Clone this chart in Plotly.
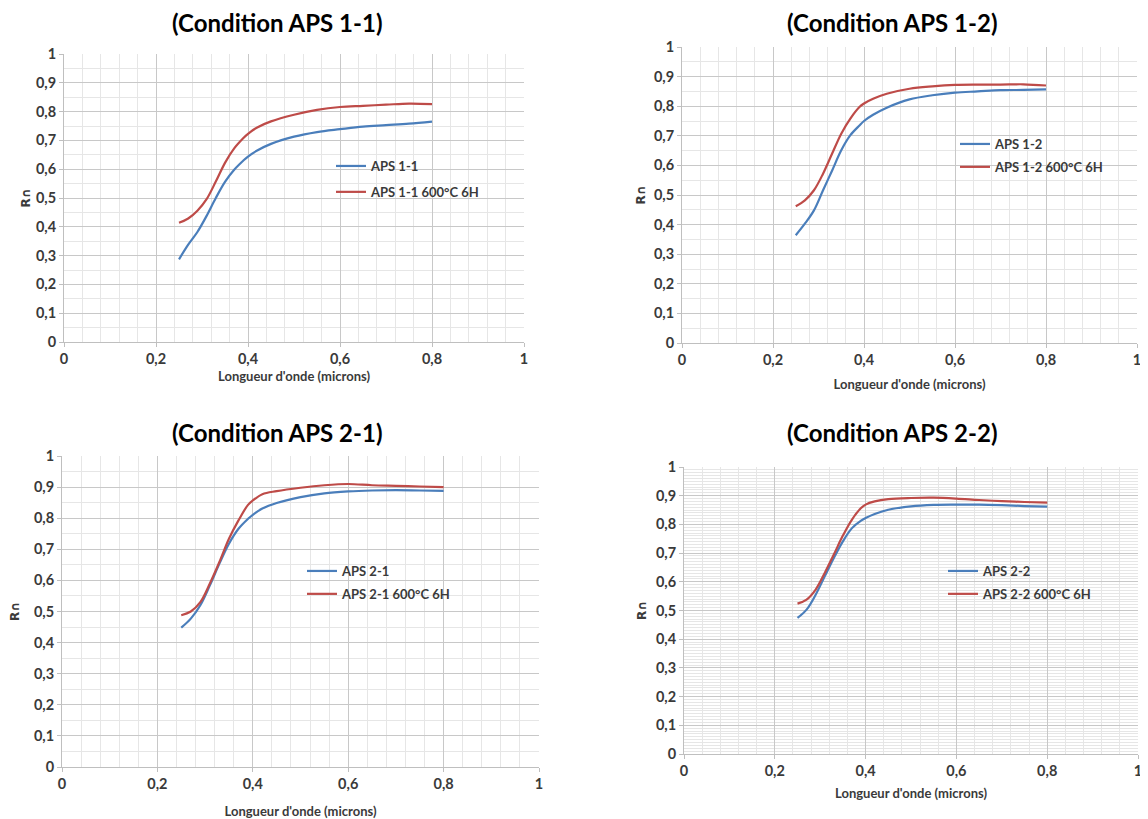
import plotly.graph_objects as go

# ---------------- data ----------------
wl = [0.25, 0.27, 0.29, 0.31, 0.33, 0.35, 0.37, 0.39, 0.40, 0.42, 0.45,
      0.50, 0.55, 0.60, 0.65, 0.70, 0.75, 0.80]

aps11 = [0.287, 0.338, 0.382, 0.438, 0.500, 0.556, 0.598, 0.630, 0.644, 0.665, 0.688,
         0.713, 0.729, 0.739, 0.748, 0.753, 0.758, 0.765]
aps11_600 = [0.414, 0.429, 0.456, 0.496, 0.557, 0.622, 0.672, 0.708, 0.723, 0.745, 0.766,
             0.789, 0.806, 0.816, 0.820, 0.824, 0.828, 0.826]

aps12 = [0.364, 0.403, 0.448, 0.516, 0.583, 0.651, 0.702, 0.735, 0.750, 0.771, 0.795,
         0.823, 0.837, 0.846, 0.850, 0.854, 0.855, 0.857]
aps12_600 = [0.462, 0.482, 0.516, 0.572, 0.640, 0.707, 0.758, 0.797, 0.809, 0.825, 0.842,
             0.859, 0.867, 0.872, 0.873, 0.873, 0.874, 0.870]

aps21 = [0.448, 0.477, 0.520, 0.584, 0.654, 0.718, 0.766, 0.798, 0.811, 0.831, 0.849,
         0.868, 0.880, 0.886, 0.889, 0.890, 0.889, 0.888]
aps21_600 = [0.488, 0.500, 0.530, 0.590, 0.659, 0.734, 0.793, 0.843, 0.857, 0.877, 0.887,
             0.898, 0.906, 0.910, 0.906, 0.904, 0.902, 0.900]

aps22 = [0.474, 0.503, 0.555, 0.619, 0.683, 0.741, 0.787, 0.813, 0.822, 0.836, 0.851,
         0.863, 0.868, 0.869, 0.869, 0.867, 0.864, 0.862]
aps22_600 = [0.524, 0.538, 0.573, 0.631, 0.695, 0.761, 0.817, 0.857, 0.869, 0.880, 0.888,
             0.892, 0.893, 0.890, 0.885, 0.881, 0.878, 0.876]

titles = ["(Condition APS 1-1)", "(Condition APS 1-2)", "(Condition APS 2-1)", "(Condition APS 2-2)"]
names = [("APS 1-1", "APS 1-1 600°C 6H"), ("APS 1-2", "APS 1-2 600°C 6H"),
         ("APS 2-1", "APS 2-1 600°C 6H"), ("APS 2-2", "APS 2-2 600°C 6H")]
series = [(aps11, aps11_600), (aps12, aps12_600), (aps21, aps21_600), (aps22, aps22_600)]
x_ticks = [0, 0.2, 0.4, 0.6, 0.8, 1]
x_labels = ["0", "0,2", "0,4", "0,6", "0,8", "1"]
y_ticks = [0, 0.1, 0.2, 0.3, 0.4, 0.5, 0.6, 0.7, 0.8, 0.9, 1]
y_labels = ["0", "0,1", "0,2", "0,3", "0,4", "0,5", "0,6", "0,7", "0,8", "0,9", "1"]
x_title = "Longueur d'onde (microns)"
y_title = "R∩"

# ---------------- layout (pixel geometry, in screen px) ----------------
OFF = 8                      # default page margin around the figure
W, H = 1148 - OFF, 819 - OFF  # figure size
# plot areas: (left, right, top, bottom) in screen px
boxes = [(64, 524, 54, 342), (682, 1137, 47, 343), (62, 539, 456, 767), (684, 1138, 467, 754)]
title_pos = [(277, 23), (892, 23), (277, 432), (892, 432)]
legend_pos = [(331, 151), (955, 129), (302, 556), (943, 556)]
y_minor = [0.05, 0.05, 0.05, 0.01]
ytitle_gap = [2, 5, 20, 6]
xtitle_gap = [5, 12, 15, 10]


def px(x):
    return (x - OFF) / W


def py(y):
    return 1 - (y - OFF) / H


BLUE = "#4a7ebb"
RED = "#be4b48"
FONT = "Lato"

fig = go.Figure()
layout = dict(
    width=W, height=H, margin=dict(l=0, r=0, t=0, b=0),
    paper_bgcolor="white", plot_bgcolor="white",
    separators=", ",
    font=dict(family=FONT, color="#404040"),
    annotations=[],
)

for i, (box, (b, r), (nb, nr)) in enumerate(zip(boxes, series, names)):
    k = "" if i == 0 else str(i + 1)
    L, R, T, B = box
    xa = dict(
        domain=[px(L), px(R)], range=[0, 1], tickvals=x_ticks,
        ticktext=["<b>%s</b>" % t for t in x_labels],
        anchor="y" + k, showgrid=True, gridcolor="#c8c8c8", gridwidth=1,
        minor=dict(dtick=0.04, tick0=0, showgrid=True, gridcolor="#e6e6e6", gridwidth=1,
                   ticks=""),
        showline=True, linecolor="#bfbfbf", linewidth=1, mirror=False,
        ticks="outside", ticklen=4, tickcolor="#bfbfbf",
        tickfont=dict(size=14.5, family=FONT, color="#3a3a3a"),
        title=dict(text="<b>%s</b>" % x_title, standoff=xtitle_gap[i],
                   font=dict(size=13, family=FONT, color="#3a3a3a")),
        zeroline=False, automargin=False, fixedrange=True,
    )
    ya = dict(
        domain=[py(B), py(T)], range=[0, 1], tickvals=y_ticks,
        ticktext=["<b>%s</b>" % t for t in y_labels],
        anchor="x" + k, showgrid=True, gridcolor="#c8c8c8", gridwidth=1,
        minor=dict(dtick=y_minor[i], tick0=0, showgrid=True, gridcolor="#e6e6e6", gridwidth=1,
                   ticks=""),
        showline=True, linecolor="#bfbfbf", linewidth=1,
        ticks="outside", ticklen=4, tickcolor="#bfbfbf",
        tickfont=dict(size=14.5, family=FONT, color="#3a3a3a"),
        title=dict(text="<b>%s</b>" % y_title, standoff=ytitle_gap[i],
                   font=dict(size=12, family="DejaVu Sans", color="#3a3a3a")),
        zeroline=False, automargin=False, fixedrange=True,
    )
    layout["xaxis" + k] = xa
    layout["yaxis" + k] = ya

    leg = "legend" + k
    fig.add_trace(go.Scatter(x=wl, y=b, mode="lines", name=nb, line=dict(color=BLUE, width=2.2, shape="spline"),
                             xaxis="x" + k, yaxis="y" + k, legend=leg, legendgroup=nb))
    fig.add_trace(go.Scatter(x=wl, y=r, mode="lines", name=nr, line=dict(color=RED, width=2.2, shape="spline"),
                             xaxis="x" + k, yaxis="y" + k, legend=leg, legendgroup=nr))
    lx, ly = legend_pos[i]
    layout[leg] = dict(x=px(lx), y=py(ly), xanchor="left", yanchor="top",
                       bgcolor="rgba(0,0,0,0)", itemwidth=30, traceorder="grouped",
                       tracegroupgap=3 if i != 0 else 6,
                       font=dict(size=13, family=FONT, color="#3a3a3a", weight="bold"))

    tx, ty = title_pos[i]
    layout["annotations"].append(dict(
        text="<b>%s</b>" % titles[i], x=px(tx), y=py(ty), xref="paper", yref="paper",
        xanchor="center", yanchor="middle", showarrow=False,
        font=dict(size=24, family=FONT, color="#000000")))

fig.update_layout(**layout)
fig.write_html("out.html")
